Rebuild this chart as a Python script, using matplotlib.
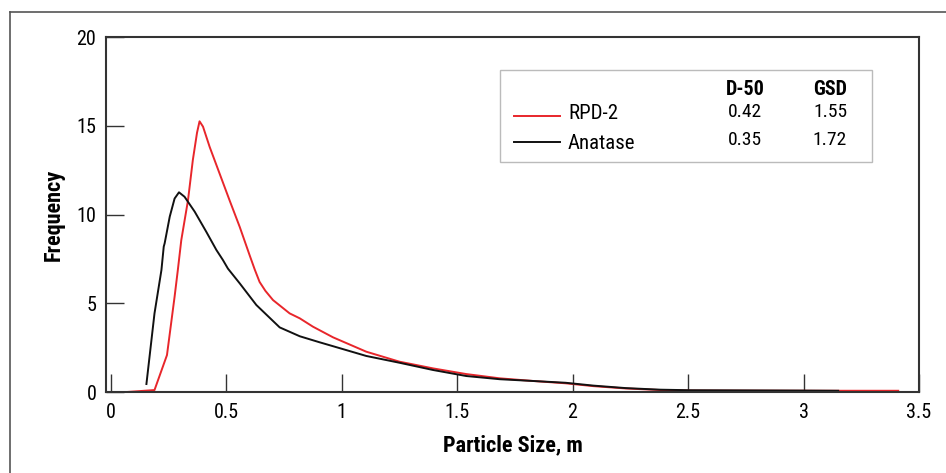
import matplotlib
matplotlib.use("Agg")
import matplotlib.pyplot as plt
from matplotlib.lines import Line2D
from matplotlib.patches import Rectangle

# data
rpd_x = [0.07, 0.19, 0.244, 0.277, 0.291, 0.306, 0.335, 0.356, 0.374, 0.385, 0.40,
         0.429, 0.472, 0.515, 0.559, 0.602, 0.624, 0.645, 0.67, 0.703, 0.775, 0.819,
         0.876, 0.963, 1.107, 1.25, 1.396, 1.54, 1.685, 1.83, 1.97, 2.09, 2.23, 2.38,
         2.51, 3.0, 3.41]
rpd_y = [0.0, 0.11, 2.08, 5.37, 6.87, 8.56, 10.8, 13.07, 14.6, 15.25, 14.95,
         13.8, 12.3, 10.8, 9.3, 7.7, 6.9, 6.2, 5.7, 5.18, 4.43, 4.15,
         3.68, 3.08, 2.27, 1.71, 1.33, 1.01, 0.77, 0.62, 0.49, 0.33, 0.2, 0.11,
         0.08, 0.07, 0.07]
ana_x = [0.155, 0.19, 0.22, 0.23, 0.234, 0.256, 0.277, 0.296, 0.32, 0.364, 0.414,
         0.458, 0.486, 0.508, 0.559, 0.631, 0.732, 0.819, 0.905, 0.963, 1.107, 1.25,
         1.396, 1.54, 1.685, 1.83, 1.97, 2.09, 2.23, 2.38, 2.51, 3.0, 3.15]
ana_y = [0.45, 4.43, 6.87, 8.19, 8.38, 9.88, 10.9, 11.25, 11.0, 10.16, 9.03,
         8.0, 7.44, 6.95, 6.12, 4.9, 3.64, 3.14, 2.8, 2.58, 2.03, 1.65,
         1.24, 0.9, 0.72, 0.62, 0.52, 0.36, 0.22, 0.13, 0.1, 0.08, 0.07]

names = ["RPD-2", "Anatase"]
d50 = ["0.42", "0.35"]
gsd = ["1.55", "1.72"]
colors = ["#e8262b", "#111111"]

plt.rcParams["font.family"] = ["Roboto Condensed", "Liberation Sans Narrow", "Roboto", "DejaVu Sans"]

fig = plt.figure(figsize=(9.46, 4.73), dpi=100)
ax = fig.add_axes([106/946, 1-392/473, (919-106)/946, (392-37)/473])

# outer frame
fig.add_artist(Line2D([10/946, 1.0], [1-12/473, 1-12/473], color="#555555", lw=1.2))
fig.add_artist(Line2D([10/946, 10/946], [1-12/473, 0.0], color="#555555", lw=1.2))

ax.plot(rpd_x, rpd_y, color=colors[0], lw=1.4)
ax.plot(ana_x, ana_y, color=colors[1], lw=1.4)

ax.set_xlim(-0.02, 3.5)
ax.set_ylim(0, 20)
ax.set_xticks([0, 0.5, 1, 1.5, 2, 2.5, 3, 3.5])
ax.set_xticklabels(["0", "0.5", "1", "1.5", "2", "2.5", "3", "3.5"])
ax.set_yticks([0, 5, 10, 15, 20])
ax.tick_params(direction="in", length=13, width=1, colors="#333333",
               labelcolor="black", labelsize=14.5)
ax.tick_params(axis="x", pad=8)
ax.tick_params(axis="y", pad=7)
for s in ax.spines.values():
    s.set_color("#333333")
    s.set_linewidth(1.5)

ax.set_xlabel("Particle Size, m", fontsize=16, fontweight="bold", labelpad=9)
ax.set_ylabel("Frequency", fontsize=16, fontweight="bold", labelpad=8)

# legend box with stats table
def fx(px):
    return (px - 106) / (919 - 106)

def fy(py):
    return (392 - py) / (392 - 37)

ax.add_patch(Rectangle((fx(500), fy(162)), fx(872) - fx(500), fy(70) - fy(162),
                       transform=ax.transAxes, fill=False, ec="#bbbbbb", lw=1.0))
ax.text(fx(745), fy(95), "D-50", transform=ax.transAxes, ha="center", va="baseline",
        fontsize=14.5, fontweight="bold")
ax.text(fx(830), fy(95), "GSD", transform=ax.transAxes, ha="center", va="baseline",
        fontsize=14.5, fontweight="bold")
num_base = [117, 145]
name_base = [119, 149]
line_y = [116, 142]
for i in range(2):
    ax.add_line(Line2D([fx(514), fx(560)], [fy(line_y[i])] * 2, transform=ax.transAxes,
                       color=colors[i], lw=1.4))
    ax.text(fx(568), fy(name_base[i]), names[i], transform=ax.transAxes, ha="left",
            va="baseline", fontsize=15)
    ax.text(fx(745), fy(num_base[i]), d50[i], transform=ax.transAxes, ha="center",
            va="baseline", fontsize=14)
    ax.text(fx(830), fy(num_base[i]), gsd[i], transform=ax.transAxes, ha="center",
            va="baseline", fontsize=14)

fig.savefig("out.png", dpi=100)
